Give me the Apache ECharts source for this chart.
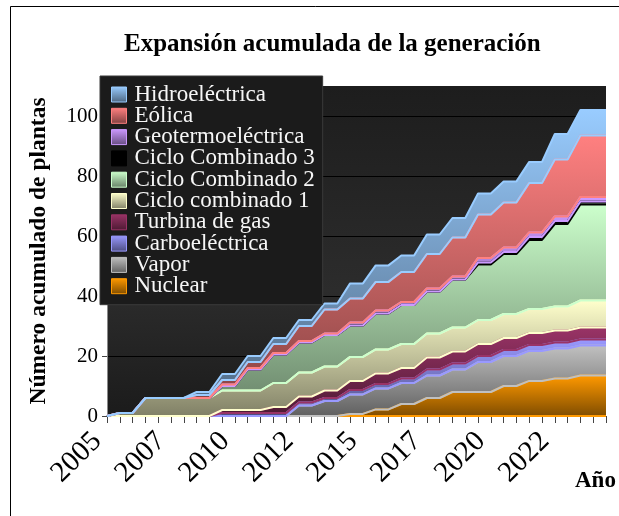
<!DOCTYPE html>
<html>
<head>
<meta charset="utf-8">
<script src="https://cdn.jsdelivr.net/npm/echarts@6/dist/echarts.min.js"></script>
<style>
  html, body { margin: 0; padding: 0; background: #fff; }
  #chart { width: 619px; height: 516px; }
</style>
</head>
<body>
<div id="chart"></div>
<script>
// half-year categories, label shown every 5th
const years = [
  '2005', '2005', '2006', '2006', '2007', '2007', '2008', '2008', '2009', '2009',
  '2010', '2010', '2011', '2011', '2012', '2012', '2013', '2013', '2014', '2014',
  '2015', '2015', '2016', '2016', '2017', '2017', '2018', '2018', '2019', '2019',
  '2020', '2020', '2021', '2021', '2022', '2022', '2023', '2023', '2024', '2024'
]
const yTicks = [0, 20, 40, 60, 80, 100]

const nuclear = [0, 0,0, 0,0, 0,0, 0,0, 0,0, 0,0, 0,0, 0,0, 0,0, 0.7,0.7, 2.2,2.2, 4,4, 6,6, 8,8, 8,8, 10,10, 11.7,11.7, 12.5,12.5, 13.5,13.5, 13.5]
const vapor = [0, 0,0, 0,0, 0,0, 0,0, 0,0, 0,0, 0,0, 3.5,3.5, 5,5, 6.5,6.5, 7,7, 7,7, 7.5,7.5, 7.5,7.5, 10,10, 10,10, 10,10, 10,10, 10,10, 10]
const carbo = [0, 0,0, 0,0, 0,0, 0,0, 1,1, 1,1, 1,1, 1,1, 1,1, 1.5,1.5, 1.5,1.5, 1.5,1.5, 2,2, 2,2, 2,2, 2,2, 2,2, 2,2, 2,2, 2]
const turbina = [0, 0,0, 0,0, 0,0, 0,0, 1,1, 1,1, 2,2, 2,2, 2.5,2.5, 3,3, 3.5,3.5, 3.5,3.5, 4,4, 4,4, 4,4, 4,4, 4,4, 4,4, 4,4, 4]
const ciclo1 = [0, 1,1, 6,6, 6,6, 6,6, 6.5,6.5, 6.5,6.5, 8,8, 8,8, 8,8, 8,8, 8,8, 8,8, 8,8, 8,8, 8,8, 8,8, 8,8, 8,8, 9,9, 9]
const ciclo2 = [0, 0,0, 0,0, 0,0, 0,0, 1.5,1.5, 7,7, 9.5,9.5, 10,10, 10.5,10.5, 10.5,10.5, 12,12, 13,13, 14,14, 16,16, 18.5,18.5, 20,20, 23,23, 27.5,27.5, 32,32, 32]
const ciclo3 = [0, 0,0, 0,0, 0,0, 0,0, 0,0, 0,0, 0,0, 0,0, 0,0, 0,0, 0,0, 0,0, 0,0, 0,0, 0.7,0.7, 0.7,0.7, 1,1, 1,1, 1,1, 1]
const geo = [0, 0,0, 0,0, 0,0, 0,0, 0.5,0.5, 0.5,0.5, 0.5,0.5, 0.5,0.5, 0.5,0.5, 1,1, 1,1, 1,1, 1,1, 1,1, 1.5,1.5, 1.5,1.5, 1.5,1.5, 1.5,1.5, 1.5,1.5, 1.5]
const eolica = [0, 0,0, 0,0, 0,0, 1,1, 1.5,1.5, 2,2, 3,3, 5,5, 8,8, 8,8, 9.5,9.5, 10,10, 11.5,11.5, 13,13, 14.5,14.5, 15,15, 16.5,16.5, 19,19, 20.5,20.5, 20.5]
const hidro = [0, 0,0, 0,0, 0,0, 1,1, 2,2, 2,2, 2,2, 2,2, 2,2, 5,5, 5.5,5.5, 5.5,5.5, 6.5,6.5, 6.5,6.5, 7,7, 7,7, 7,7, 8.5,8.5, 8.5,8.5, 8.5]

// stacking order, bottom first
const names = ['Nuclear', 'Vapor', 'Carboeléctrica', 'Turbina de gas', 'Ciclo combinado 1',
  'Ciclo Combinado 2', 'Ciclo Combinado 3', 'Geotermoeléctrica', 'Eólica', 'Hidroeléctrica']
const values = [nuclear, vapor, carbo, turbina, ciclo1, ciclo2, ciclo3, geo, eolica, hidro]
const colors = ['#ff9900', '#c0c0c0', '#9999ff', '#993366', '#ffffcc',
  '#ccffcc', '#000000', '#cc99ff', '#ff8080', '#99ccff']

const serif = 'Liberation Serif, Times New Roman, serif'

const shade = (hex, f) => {
  const n = parseInt(hex.slice(1), 16)
  const r = Math.round(((n >> 16) & 255) * f)
  const g = Math.round(((n >> 8) & 255) * f)
  const b = Math.round((n & 255) * f)
  return 'rgb(' + r + ',' + g + ',' + b + ')'
}
const fade = (c) => ({
  type: 'linear', x: 0, y: 0, x2: 0, y2: 1,
  colorStops: [{ offset: 0, color: c }, { offset: 1, color: shade(c, 0.5) }]
})

const series = []
names.forEach((name, k) => {
  // outline along the bottom of each band (stacked zero helper)
  series.push({
    name: '_edge' + k,
    type: 'line',
    stack: 'total',
    data: values[k].map(() => 0),
    symbol: 'none',
    silent: true,
    lineStyle: { color: colors[k], width: 2 },
    emphasis: { disabled: true }
  })
  series.push({
    name: name,
    type: 'line',
    stack: 'total',
    data: values[k],
    symbol: 'none',
    itemStyle: { color: colors[k] },
    lineStyle: { color: colors[k], width: 2 },
    areaStyle: { color: fade(colors[k]), opacity: 1 },
    emphasis: { disabled: true }
  })
})

const chart = echarts.init(document.getElementById('chart'))
chart.setOption({
  animation: false,
  backgroundColor: '#fff',
  title: {
    text: 'Expansión acumulada de la generación',
    left: 119,
    top: 27,
    textStyle: { fontFamily: serif, fontSize: 25, fontWeight: 'bold', color: '#000' }
  },
  legend: {
    orient: 'vertical',
    left: 100,
    top: 76,
    padding: [7, 8, 7, 11],
    itemGap: -1.7,
    itemWidth: 15,
    itemHeight: 15,
    icon: 'rect',
    backgroundColor: '#1b1b1b',
    borderColor: '#3a3a3a',
    borderWidth: 1,
    textStyle: { fontFamily: serif, fontSize: 23, color: '#f6f6f6', padding: [0, 0, 0, 3] },
    data: names.slice().reverse().map((n) => {
      const k = names.indexOf(n)
      return { name: n, itemStyle: { color: fade(colors[k]), borderColor: colors[k], borderWidth: 1 } }
    })
  },
  graphic: [{
    type: 'rect',
    shape: { x: 10.5, y: 6.5, width: 640, height: 600 },
    style: { fill: null, stroke: '#000', lineWidth: 1 },
    silent: true
  }],
  grid: {
    left: 107,
    right: 13,
    top: 86,
    bottom: 100,
    show: true,
    borderWidth: 0,
    backgroundColor: {
      type: 'linear', x: 0, y: 0, x2: 0, y2: 1,
      colorStops: [
        { offset: 0, color: '#1d1d1d' },
        { offset: 0.62, color: '#2c2c2c' },
        { offset: 1, color: '#1b1b1b' }
      ]
    }
  },
  xAxis: {
    type: 'category',
    data: years,
    boundaryGap: false,
    name: 'Año',
    nameLocation: 'end',
    nameGap: -31,
    nameTextStyle: {
      fontFamily: serif, fontSize: 23, fontWeight: 'bold', color: '#000',
      verticalAlign: 'top', padding: [54, 0, 0, 0]
    },
    axisLine: { lineStyle: { color: '#8a8a8a', width: 1 } },
    axisTick: { interval: 0, length: 7, lineStyle: { color: '#444' } },
    axisLabel: {
      interval: 4, rotate: 45, margin: 11, padding: [0, 14, 0, 0],
      fontFamily: serif, fontSize: 29, color: '#000'
    },
    splitLine: { show: false }
  },
  yAxis: {
    type: 'value',
    min: 0,
    max: 110,
    interval: 20,
    name: 'Número acumulado de plantas',
    nameLocation: 'middle',
    nameGap: 56,
    nameRotate: 90,
    nameTextStyle: { fontFamily: serif, fontSize: 23.5, fontWeight: 'bold', color: '#000' },
    axisLine: { show: true, lineStyle: { color: '#8a8a8a', width: 1 } },
    axisTick: { show: true, length: 5, lineStyle: { color: '#444' } },
    axisLabel: {
      margin: 9, fontFamily: serif, fontSize: 21, color: '#000',
      formatter: (v) => (yTicks.indexOf(v) >= 0 ? String(v) : '')
    },
    splitLine: { showMaxLine: false, lineStyle: { color: '#000', width: 1 } }
  },
  series: series
})
</script>
</body>
</html>
